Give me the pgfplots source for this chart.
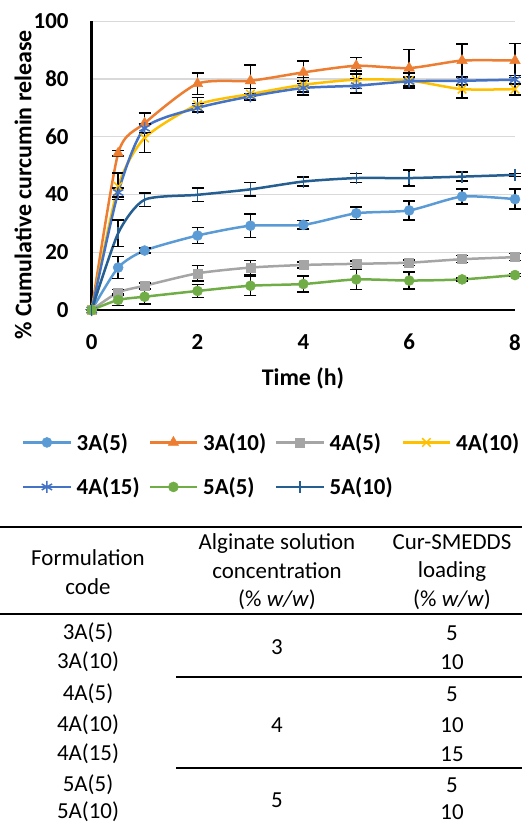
\documentclass[border=0pt]{standalone}
\usepackage{fontspec}
\setmainfont{Carlito}
\usepackage{pgfplots}
\pgfplotsset{compat=1.18}

\definecolor{cA}{HTML}{5B9BD5}
\definecolor{cB}{HTML}{ED7D31}
\definecolor{cC}{HTML}{A5A5A5}
\definecolor{cD}{HTML}{FFC000}
\definecolor{cE}{HTML}{4472C4}
\definecolor{cF}{HTML}{70AD47}
\definecolor{cG}{HTML}{255E91}
\definecolor{gridc}{HTML}{D9D9D9}

\newcommand{\bigbf}{\bfseries\fontsize{23}{27}\selectfont}
\newcommand{\labbf}{\bfseries\fontsize{24}{28}\selectfont}
\newcommand{\tabf}{\fontsize{23}{28.5}\selectfont}

\pgfplotsset{
  eb/.style={
    error bars/.cd, y dir=both, y explicit,
    error bar style={line width=1.5bp, black, solid},
    error mark options={black, mark size=6bp, line width=1.5bp, rotate=90},
  },
}

\begin{document}
\begin{tikzpicture}
\path[use as bounding box] (0,0) rectangle (522bp,-825bp);
\begin{axis}[
  at={(91.7bp,-310bp)}, anchor=south west,
  scale only axis, width=423.3bp, height=288.7bp,
  xmin=0, xmax=8, ymin=0, ymax=100,
  axis lines=left,
  axis line style={-, line width=2.6bp, black},
  xtick={0,2,...,8}, ytick={0,20,...,100},
  major tick length=0pt,
  ymajorgrids, grid style={line width=1.2bp, gridc},
  tick label style={font=\bigbf},
  /pgf/number format/assume math mode=true,
  xticklabel style={inner sep=0pt, anchor=north, yshift=-24bp},
  yticklabel style={inner sep=0pt, anchor=east, xshift=-23bp},
  clip=false,
  legend columns=4,
  legend cell align=left,
  legend style={draw=none, fill=none, font=\bigbf,
    inner xsep=0pt, inner ysep=0pt,
    at={(-0.1647,-0.426)}, anchor=north west,
    nodes={inner sep=0pt, text width=64bp},
    /tikz/every odd column/.append style={column sep=5bp},
    /tikz/every even column/.append style={column sep=8bp},
    row sep=26bp},
  legend image code/.code={
    \draw[mark repeat=2, mark phase=2, line width=2.5bp]
      plot coordinates {(0bp,0bp) (23.5bp,0bp) (47bp,0bp)};},
  every axis plot/.append style={line width=2.5bp, smooth, tension=0.4},
]
% 3A(5)
\addplot[cA, mark=*, mark size=5bp, mark options={solid, fill=cA, draw=cA, line width=0.5bp}, eb]
  table[x=x, y=y, y error=e] {
x y e
0 0 0
0.5 14.7 3.8
1 20.6 0.8
2 25.8 2.7
3 29.2 4.1
4 29.5 1.5
5 33.5 2.2
6 34.5 3.3
7 39.3 2.6
8 38.4 3.5
};
\addlegendentry{3A(5)}
% 3A(10)
\addplot[cB, mark=triangle*, mark size=6bp, mark options={solid, fill=cB, draw=cB, line width=0.5bp}, eb]
  table[x=x, y=y, y error=e] {
x y e
0 0 0
0.5 54.3 1.0
1 64.7 3.5
2 78.4 3.7
3 79.4 5.5
4 82.3 3.9
5 84.6 2.9
6 83.8 6.4
7 86.4 5.7
8 86.4 5.9
};
\addlegendentry{3A(10)}
% 4A(5)
\addplot[cC, mark=square*, mark size=4.5bp, mark options={solid, fill=cC, draw=cC, line width=0.5bp}, eb]
  table[x=x, y=y, y error=e] {
x y e
0 0 0
0.5 6.1 1.0
1 8.4 1.0
2 12.7 2.7
3 14.7 2.5
4 15.6 1.0
5 16.0 1.0
6 16.4 1.0
7 17.6 1.2
8 18.3 1.2
};
\addlegendentry{4A(5)}
% 4A(10)
\addplot[cD, mark=x, mark size=6bp, mark options={solid, draw=cD, line width=1.5bp}, eb]
  table[x=x, y=y, y error=e] {
x y e
0 0 0
0.5 42.8 4.6
1 59.6 5.0
2 71.1 2.5
3 74.8 2.0
4 78.0 2.5
5 79.8 3.0
6 79.5 2.6
7 76.5 3.0
8 76.5 2.0
};
\addlegendentry{4A(10)}
% 4A(15)
\addplot[cE, mark=asterisk, mark size=6bp, mark options={solid, draw=cE, line width=1.5bp}, eb]
  table[x=x, y=y, y error=e] {
x y e
0 0 0
0.5 40.7 1.5
1 63.0 1.5
2 70.0 1.5
3 74.0 1.0
4 76.9 2.5
5 77.7 2.5
6 79.2 1.5
7 79.4 1.5
8 79.8 1.5
};
\addlegendentry{4A(15)}
% 5A(5)
\addplot[cF, mark=*, mark size=5bp, mark options={solid, fill=cF, draw=cF, line width=0.5bp}, eb]
  table[x=x, y=y, y error=e] {
x y e
0 0 0
0.5 3.5 2.0
1 4.6 2.5
2 6.6 2.3
3 8.4 3.3
4 9.0 2.7
5 10.6 3.5
6 10.2 3.0
7 10.6 0.5
8 12.1 0.5
};
\addlegendentry{5A(5)}
% 5A(10)
\addplot[cG, mark=|, mark size=6bp, mark options={solid, draw=cG, line width=1.5bp}, eb]
  table[x=x, y=y, y error=e] {
x y e
0 0 0
0.5 26.6 4.6
1 38.2 2.3
2 39.9 2.4
3 41.8 2.3
4 44.5 1.6
5 45.7 1.5
6 45.7 2.8
7 46.2 1.6
8 46.8 0.5
};
\addlegendentry{5A(10)}
\end{axis}

% axis titles
\node[font=\labbf] at (303bp,-378bp) {Time (h)};
\node[font=\labbf, rotate=90] at (23bp,-185bp) {\% Cumulative curcumin release};

% table
\draw[line width=2bp] (0bp,-527bp) -- (522bp,-527bp);
\draw[line width=2bp] (0bp,-614bp) -- (522bp,-614bp);
\draw[line width=1.3bp] (176bp,-677bp) -- (522bp,-677bp);
\draw[line width=1.3bp] (176bp,-768bp) -- (522bp,-768bp);

\begin{scope}[every node/.style={font=\tabf, inner sep=0pt, align=center}]
\node at (88bp,-572bp) {Formulation\\code};
\node at (277bp,-572bp) {Alginate solution\\concentration\\(\% \textit{w/w})};
\node at (452bp,-572bp) {Cur-SMEDDS\\loading\\(\% \textit{w/w})};

\node at (88bp,-633bp) {3A(5)};
\node at (88bp,-662bp) {3A(10)};
\node at (88bp,-694bp) {4A(5)};
\node at (88bp,-725bp) {4A(10)};
\node at (88bp,-754bp) {4A(15)};
\node at (88bp,-785bp) {5A(5)};
\node at (88bp,-812bp) {5A(10)};

\node at (277bp,-647bp) {3};
\node at (277bp,-725bp) {4};
\node at (277bp,-800bp) {5};

\node at (452bp,-633bp) {5};
\node at (452bp,-662bp) {10};
\node at (452bp,-694bp) {5};
\node at (452bp,-725bp) {10};
\node at (452bp,-754bp) {15};
\node at (452bp,-785bp) {5};
\node at (452bp,-812bp) {10};
\end{scope}
\end{tikzpicture}
\end{document}
